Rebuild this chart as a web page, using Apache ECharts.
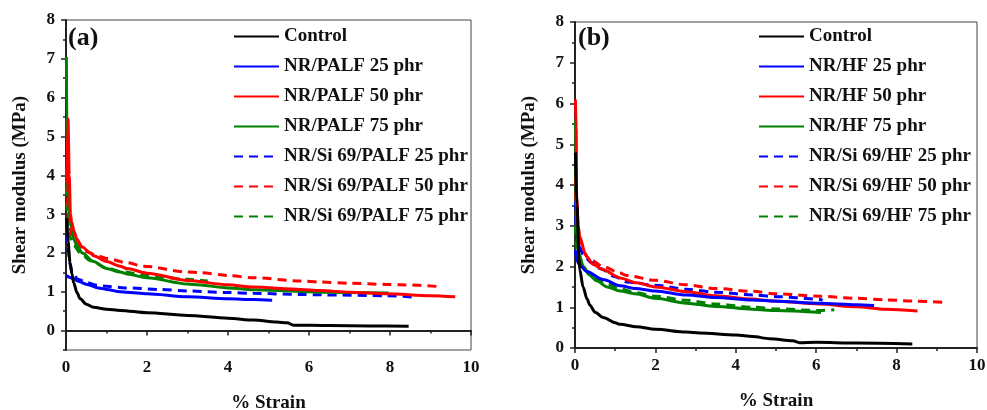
<!DOCTYPE html>
<html>
<head>
<meta charset="utf-8">
<script src="https://cdn.jsdelivr.net/npm/echarts@6/dist/echarts.min.js"></script>
<style>
  html, body { margin: 0; padding: 0; background: #fff; }
  #chart { width: 987px; height: 410px; }
</style>
</head>
<body>
<div id="chart"></div>
<script>
// Shear modulus (MPa) versus % strain, pairs of [strain, modulus]

// Panel (a): PALF composites
const namesA = ['Control', 'NR/PALF 25 phr', 'NR/PALF 50 phr', 'NR/PALF 75 phr',
  'NR/Si 69/PALF 25 phr', 'NR/Si 69/PALF 50 phr', 'NR/Si 69/PALF 75 phr'];

const controlA = [[0.02,2.9],[0.05,2.3],[0.1,1.75],[0.15,1.45],[0.19,1.23],[0.27,0.98],[0.35,0.82],
  [0.5,0.68],[0.68,0.6],[1.0,0.55],[1.34,0.52],[2.0,0.46],[3.0,0.39],[4.0,0.32],[4.63,0.27],
  [5.2,0.22],[5.46,0.2],[5.62,0.14],[6.5,0.13],[7.5,0.12],[8.46,0.11]];
const palf25 = [[0.01,1.42],[0.1,1.37],[0.19,1.33],[0.3,1.27],[0.52,1.19],[0.8,1.1],[1.0,1.06],
  [1.34,1.0],[1.5,0.99],[2.0,0.95],[3.0,0.87],[4.0,0.82],[4.63,0.8],[5.09,0.78]];
const palf50 = [[0.02,3.8],[0.05,5.45],[0.08,4.0],[0.11,3.0],[0.14,2.8],[0.2,2.55],[0.27,2.35],
  [0.4,2.15],[0.6,2.0],[0.68,1.93],[1.0,1.78],[1.34,1.66],[1.5,1.6],[2.0,1.48],[3.0,1.29],
  [4.0,1.18],[4.63,1.12],[5.79,1.06],[6.28,1.03],[7.0,0.99],[7.93,0.95],[9.0,0.9],[9.61,0.87]];
const palf75 = [[0.01,7.05],[0.02,5.5],[0.04,4.0],[0.05,3.6],[0.08,3.0],[0.14,2.65],[0.19,2.35],
  [0.27,2.2],[0.4,2.0],[0.68,1.78],[1.0,1.6],[1.34,1.51],[1.5,1.46],[2.0,1.36],[3.0,1.2],
  [3.15,1.19],[4.0,1.1],[4.63,1.05],[5.79,1.01],[6.28,0.99],[7.0,0.98],[7.96,0.97]];
const siPalf25 = [[0.01,2.9],[0.03,2.5],[0.06,2.0],[0.1,1.7],[0.15,1.5],[0.3,1.32],[0.5,1.24],
  [0.77,1.17],[1.0,1.14],[1.46,1.1],[2.33,1.06],[3.0,1.02],[4.0,0.98],[4.63,0.96],[5.79,0.93],
  [6.28,0.92],[7.93,0.9],[8.62,0.86]];
const siPalf50 = [[0.01,4.2],[0.03,3.5],[0.06,2.9],[0.1,2.6],[0.18,2.35],[0.35,2.15],[0.5,2.03],
  [0.8,1.92],[1.0,1.86],[1.5,1.75],[1.9,1.66],[3.0,1.51],[3.32,1.49],[4.0,1.42],[4.63,1.36],
  [5.79,1.28],[6.28,1.25],[7.0,1.22],[7.93,1.19],[8.25,1.18],[9.28,1.13]];
const siPalf75 = [[0.01,3.7],[0.03,3.1],[0.06,2.6],[0.1,2.4],[0.19,2.2],[0.35,2.0],[0.6,1.8],
  [1.0,1.62],[1.34,1.52],[2.0,1.42],[2.33,1.38],[3.0,1.32],[3.5,1.28]];

// Panel (b): HF composites
const namesB = ['Control', 'NR/HF 25 phr', 'NR/HF 50 phr', 'NR/HF 75 phr',
  'NR/Si 69/HF 25 phr', 'NR/Si 69/HF 50 phr', 'NR/Si 69/HF 75 phr'];

const controlB = [[0.01,4.8],[0.05,3.5],[0.1,2.2],[0.12,1.92],[0.2,1.5],[0.3,1.2],[0.37,1.05],
  [0.5,0.88],[0.7,0.75],[1.0,0.62],[1.12,0.58],[1.53,0.52],[2.0,0.46],[2.77,0.39],[3.1,0.37],
  [4.01,0.32],[4.42,0.28],[4.84,0.23],[5.42,0.18],[5.58,0.13],[6.0,0.14],[7.0,0.12],[8.39,0.1]];
const hf25 = [[0.01,2.4],[0.03,2.2],[0.1,2.05],[0.29,1.88],[0.7,1.68],[1.12,1.53],[1.5,1.46],
  [2.0,1.4],[2.77,1.3],[3.5,1.24],[4.42,1.18],[5.0,1.15],[6.08,1.1],[7.0,1.06],[7.44,1.04]];
const hf50 = [[0.01,6.1],[0.03,5.4],[0.04,3.7],[0.08,3.0],[0.12,2.73],[0.25,2.33],[0.29,2.24],
  [0.45,2.05],[0.7,1.92],[1.12,1.72],[1.53,1.6],[2.0,1.5],[2.77,1.38],[3.5,1.28],[4.42,1.2],
  [4.84,1.16],[6.08,1.08],[7.0,1.01],[7.73,0.95],[8.52,0.91]];
const hf75 = [[0.01,5.6],[0.02,4.5],[0.04,3.0],[0.06,2.6],[0.1,2.3],[0.21,2.0],[0.35,1.8],
  [0.54,1.65],[0.8,1.5],[1.12,1.4],[1.5,1.33],[2.0,1.22],[2.77,1.1],[3.5,1.02],[4.42,0.95],
  [5.0,0.92],[6.12,0.87]];
const siHf25 = [[0.01,3.6],[0.03,3.0],[0.06,2.7],[0.1,2.5],[0.2,2.3],[0.4,2.1],[0.62,1.95],
  [1.0,1.75],[1.28,1.62],[2.0,1.54],[2.77,1.44],[3.5,1.37],[4.42,1.3],[5.0,1.26],[6.16,1.18]];
const siHf50 = [[0.01,4.2],[0.04,3.2],[0.1,2.6],[0.2,2.35],[0.37,2.17],[0.7,2.0],[1.12,1.84],
  [1.28,1.78],[2.0,1.66],[2.77,1.55],[3.5,1.46],[4.42,1.39],[5.0,1.33],[6.08,1.27],[7.0,1.22],
  [7.73,1.18],[8.5,1.15],[9.18,1.12]];
const siHf75 = [[0.01,3.0],[0.03,2.5],[0.1,2.1],[0.2,1.95],[0.4,1.8],[0.7,1.62],[1.12,1.45],
  [1.5,1.36],[2.0,1.27],[2.77,1.17],[3.5,1.08],[4.42,1.0],[5.0,0.96],[6.08,0.92],[6.45,0.94]];

// Axis ticks
const yTicksA = [0, 1, 2, 3, 4, 5, 6, 7, 8];
const yHalfTicksA = [-0.5, 0.5, 1.5, 2.5, 3.5, 4.5, 5.5, 6.5, 7.5];

const dataA = [controlA, palf25, palf50, palf75, siPalf25, siPalf50, siPalf75];
const dataB = [controlB, hf25, hf50, hf75, siHf25, siHf50, siHf75];

const colors = ['#000000', '#0000ff', '#ff0000', '#008000', '#0000ff', '#ff0000', '#008000'];
const dashed = [false, false, false, false, true, true, true];

const FONT = 'Liberation Serif, Times New Roman, serif';
const INK = '#222';

function makeSeries(names, data, xIdx, yIdx) {
  return names.map((name, i) => ({
    name: name,
    type: 'line',
    xAxisIndex: xIdx,
    yAxisIndex: yIdx,
    data: data[i],
    showSymbol: false,
    symbol: 'none',
    smooth: 0.3,
    smoothMonotone: 'x',
    animation: false,
    z: 10 - i,
    lineStyle: {
      color: colors[i],
      width: 3,
      type: dashed[i] ? [9, 6] : 'solid'
    },
    itemStyle: { color: colors[i] }
  }));
}

function xAxis(gridIndex) {
  return {
    type: 'value', gridIndex: gridIndex, min: 0, max: 10, interval: 2,
    name: '% Strain', nameLocation: 'middle', nameGap: 44,
    nameTextStyle: { fontFamily: FONT, fontWeight: 'bold', fontSize: 19, color: '#111' },
    axisLine: { show: true, lineStyle: { color: INK, width: 2 } },
    axisTick: { show: true, length: 5, lineStyle: { color: INK, width: 1.5 } },
    minorTick: { show: true, splitNumber: 2, length: 3, lineStyle: { color: INK, width: 1.5 } },
    axisLabel: { fontFamily: FONT, fontWeight: 'bold', fontSize: 17, color: '#111', margin: 9 },
    splitLine: { show: false }
  };
}

const yName = {
  name: 'Shear modulus (MPa)', nameLocation: 'middle', nameGap: 36,
  nameTextStyle: { fontFamily: FONT, fontWeight: 'bold', fontSize: 19, color: '#111' }
};
const yLabel = { fontFamily: FONT, fontWeight: 'bold', fontSize: 17, color: '#111', margin: 11 };

const legendBase = {
  orient: 'vertical',
  padding: 0,
  itemWidth: 45,
  itemHeight: 14,
  itemGap: 12,
  itemStyle: { opacity: 0 },
  textStyle: { fontFamily: FONT, fontWeight: 'bold', fontSize: 19, color: '#111', lineHeight: 18 },
  selectedMode: false
};

const chart = echarts.init(document.getElementById('chart'), null, { renderer: 'canvas' });

chart.setOption({
  backgroundColor: '#fff',
  animation: false,
  grid: [
    { left: 66, right: 516, top: 20, bottom: 60, outerBoundsMode: 'none', show: true,
      borderColor: '#444', borderWidth: 1, backgroundColor: 'transparent' },
    { left: 575, right: 10, top: 22, bottom: 62, outerBoundsMode: 'none', show: true,
      borderColor: '#444', borderWidth: 1, backgroundColor: 'transparent' }
  ],
  xAxis: [xAxis(0), xAxis(1)],
  yAxis: [
    Object.assign({
      type: 'value', gridIndex: 0, min: -0.5, max: 8, interval: 0.5, position: 'left',
      axisLine: { show: true, lineStyle: { color: INK, width: 2 } },
      axisTick: { show: true, length: 5, customValues: yTicksA, lineStyle: { color: INK, width: 1.5 } },
      axisLabel: Object.assign({ customValues: yTicksA,
        formatter: v => (Number.isInteger(v) ? String(v) : '') }, yLabel),
      splitLine: { show: false }
    }, yName),
    {
      type: 'value', gridIndex: 0, min: -0.5, max: 8, interval: 0.5, position: 'left', offset: 0,
      axisLine: { show: false },
      axisTick: { show: true, length: 3, customValues: yHalfTicksA, lineStyle: { color: INK, width: 1.5 } },
      axisLabel: { show: false },
      splitLine: { show: false }
    },
    Object.assign({
      type: 'value', gridIndex: 1, min: 0, max: 8, interval: 1, position: 'left',
      axisLine: { show: true, lineStyle: { color: INK, width: 2 } },
      axisTick: { show: true, length: 5, lineStyle: { color: INK, width: 1.5 } },
      minorTick: { show: true, splitNumber: 2, length: 3, lineStyle: { color: INK, width: 1.5 } },
      axisLabel: yLabel,
      splitLine: { show: false }
    }, yName)
  ],
  legend: [
    Object.assign({ left: 233, top: 27, itemGap: 11, data: namesA }, legendBase, { itemGap: 11 }),
    Object.assign({ left: 758, top: 27, data: namesB.slice() }, legendBase, { itemGap: 11 })
  ],
  graphic: [
    { type: 'text', left: 68, top: 25, style: { text: '(a)', font: 'bold 26px ' + FONT, fill: '#111' } },
    { type: 'text', left: 578, top: 25, style: { text: '(b)', font: 'bold 26px ' + FONT, fill: '#111' } }
  ],
  series: makeSeries(namesA, dataA, 0, 0).concat(makeSeries(namesB, dataB, 1, 2))
});
</script>
</body>
</html>
